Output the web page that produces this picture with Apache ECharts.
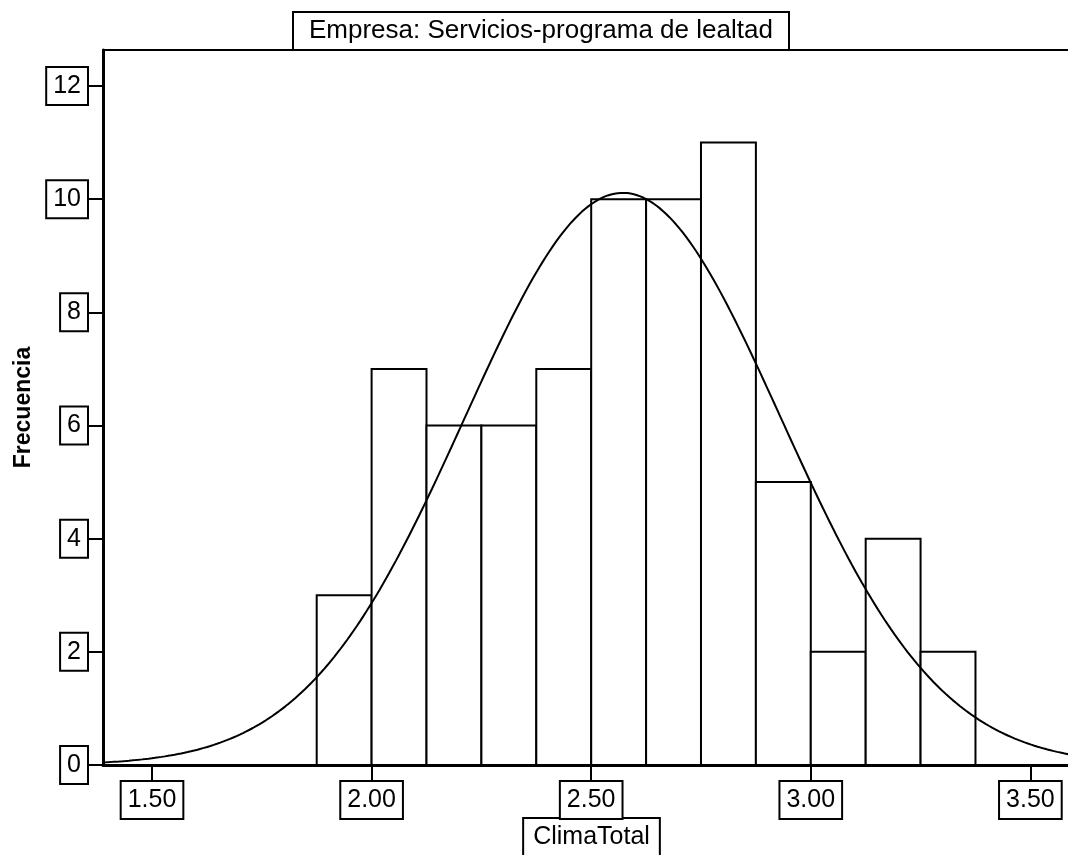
<!DOCTYPE html>
<html>
<head>
<meta charset="utf-8">
<title>ClimaTotal – histograma</title>
<script src="https://cdn.jsdelivr.net/npm/echarts@6/dist/echarts.min.js"></script>
<style>
  html, body { margin: 0; padding: 0; background: #fff; }
  #chart { width: 1068px; height: 855px; }
</style>
</head>
<body>
<div id="chart"></div>
<script>
// Histogram bins (lower edge of each bin) and their frequencies
const binStarts = [1.875, 2.000, 2.125, 2.250, 2.375, 2.500, 2.625, 2.750, 2.875, 3.000, 3.125, 3.250];
const counts    = [3, 7, 6, 6, 7, 10, 10, 11, 5, 2, 4, 2];
const binWidth  = 0.125;

// Fitted normal curve parameters
const mean   = 2.572;
const stdDev = 0.360;

// Axis tick labels
const xTicks = [1.5, 2.0, 2.5, 3.0, 3.5];
const yTicks = [0, 2, 4, 6, 8, 10, 12];

const titleText = 'Empresa: Servicios-programa de lealtad';
const xName = 'ClimaTotal';
const yName = 'Frecuencia';

const xMin = 1.3884, xMax = 3.613;
const yMin = 0, yMax = 12.637;

const FONT = '"Liberation Sans", Arial, Helvetica, sans-serif';

// Normal density scaled to frequency per bin
const total = counts.reduce((a, b) => a + b, 0);
const curve = [];
const steps = 300;
for (let i = 0; i <= steps; i++) {
  const x = xMin + (xMax - xMin) * i / steps;
  const z = (x - mean) / stdDev;
  const y = total * binWidth / (stdDev * Math.sqrt(2 * Math.PI)) * Math.exp(-0.5 * z * z);
  curve.push([x, y]);
}

const bins = binStarts.map((s, i) => [s, s + binWidth, counts[i]]);

const boxLabel = {
  color: '#000',
  fontFamily: FONT,
  fontSize: 25,
  lineHeight: 30,
  padding: [3, 6, 3, 6],
  borderColor: '#000',
  borderWidth: 2,
  backgroundColor: '#fff'
};

const chart = echarts.init(document.getElementById('chart'), null, { renderer: 'canvas' });

chart.setOption({
  backgroundColor: '#fff',
  animation: false,
  title: {
    text: titleText,
    left: 293,
    top: 12,
    padding: [4, 16, 4, 16],
    borderColor: '#000',
    borderWidth: 2,
    backgroundColor: '#fff',
    textStyle: {
      color: '#000',
      fontFamily: FONT,
      fontSize: 26,
      fontWeight: 'normal',
      lineHeight: 30
    }
  },
  grid: {
    left: 103,
    right: -12,
    top: 50,
    bottom: 90,
    outerBoundsMode: 'none',
    containLabel: false,
    show: true,
    borderColor: '#000',
    borderWidth: 2,
    backgroundColor: 'transparent'
  },
  xAxis: {
    type: 'value',
    min: xMin,
    max: xMax,
    name: xName,
    nameLocation: 'middle',
    nameGap: 54,
    nameMoveOverlap: false,
    nameTextStyle: Object.assign({}, boxLabel, { padding: [3, 9, 3, 9] }),
    axisLine: { show: true, onZero: false, lineStyle: { color: '#000', width: 3 } },
    axisTick: {
      show: true,
      inside: false,
      length: 17,
      customValues: xTicks,
      lineStyle: { color: '#000', width: 2 }
    },
    axisLabel: Object.assign({}, boxLabel, {
      margin: 17,
      customValues: xTicks,
      formatter: v => Number(v).toFixed(2)
    }),
    splitLine: { show: false }
  },
  yAxis: {
    type: 'value',
    min: yMin,
    max: yMax,
    name: yName,
    nameLocation: 'middle',
    nameRotate: 90,
    nameGap: 68,
    nameMoveOverlap: false,
    nameTextStyle: {
      color: '#000',
      fontFamily: FONT,
      fontSize: 23,
      fontWeight: 'bold'
    },
    axisLine: { show: true, lineStyle: { color: '#000', width: 3 } },
    axisTick: {
      show: true,
      inside: false,
      length: 16,
      customValues: yTicks,
      lineStyle: { color: '#000', width: 2 }
    },
    axisLabel: Object.assign({}, boxLabel, {
      margin: 16,
      customValues: yTicks,
      formatter: v => String(Math.round(v))
    }),
    splitLine: { show: false }
  },
  series: [
    {
      type: 'custom',
      name: 'Frecuencia',
      data: bins,
      encode: { x: [0, 1], y: 2 },
      renderItem: function (params, api) {
        const p0 = api.coord([api.value(0), api.value(2)]);
        const p1 = api.coord([api.value(1), 0]);
        return {
          type: 'rect',
          shape: { x: p0[0], y: p0[1], width: p1[0] - p0[0], height: p1[1] - p0[1] },
          style: { fill: '#fff', stroke: '#000', lineWidth: 2 }
        };
      },
      z: 2
    },
    {
      type: 'line',
      name: 'Normal',
      data: curve,
      showSymbol: false,
      smooth: false,
      clip: true,
      lineStyle: { color: '#000', width: 2 },
      z: 3
    }
  ]
});
</script>
</body>
</html>
